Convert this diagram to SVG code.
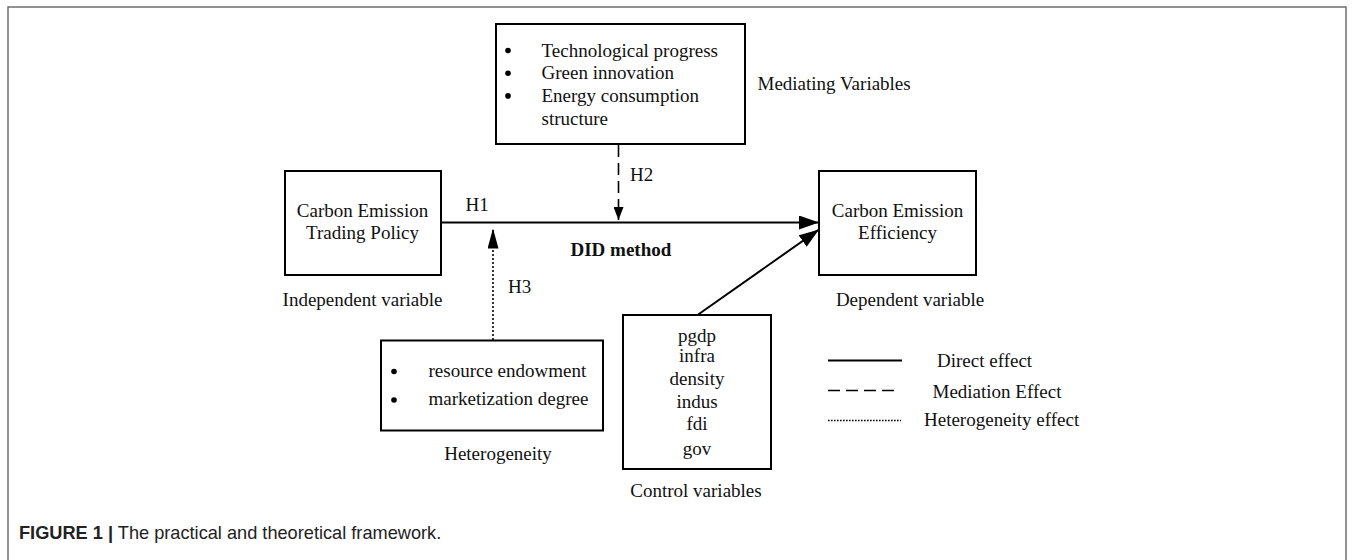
<svg xmlns="http://www.w3.org/2000/svg" width="1354" height="560" viewBox="0 0 1354 560">
  <style>
    .box { fill: #ffffff; stroke: #000000; stroke-width: 2; }
    .t { font-family: "Liberation Serif", "Times New Roman", serif; font-size: 19px; fill: #111111; }
    .mid { text-anchor: middle; }
    .bold { font-weight: bold; }
    .bullet { fill: #000000; }
    .solid { stroke: #000000; stroke-width: 2; fill: none; }
    .dash { stroke: #000000; stroke-width: 1.6; fill: none; stroke-dasharray: 12 6; }
    .dot { stroke: #000000; stroke-width: 1.6; fill: none; stroke-dasharray: 2 2; }
    .cap { font-family: "Liberation Sans", Arial, sans-serif; font-size: 18.2px; fill: #222222; }
  </style>
  <defs>
    <marker id="arrowBig" markerUnits="userSpaceOnUse" markerWidth="20" markerHeight="14" refX="20" refY="7" orient="auto">
      <path d="M0,0 L20,7 L0,14 z" fill="#000000"/>
    </marker>
    <marker id="arrowMid" markerUnits="userSpaceOnUse" markerWidth="20" markerHeight="11" refX="20" refY="5.5" orient="auto">
      <path d="M0,0 L20,5.5 L0,11 z" fill="#000000"/>
    </marker>
    <marker id="arrowSmall" markerUnits="userSpaceOnUse" markerWidth="13" markerHeight="10" refX="13" refY="5" orient="auto">
      <path d="M0,0 L13,5 L0,10 z" fill="#000000"/>
    </marker>
  </defs>

  <rect width="1354" height="560" fill="#ffffff"/>
  <!-- figure frame, open at the bottom -->
  <path d="M8,600 L8,7 L1346,7 L1346,600" fill="none" stroke="#6e6e6e" stroke-width="1.5"/>

  <!-- connectors -->
  <g id="connectors">
    <line class="solid" x1="441" y1="222.5" x2="819" y2="222.5" marker-end="url(#arrowBig)"/>
    <line class="solid" x1="697.5" y1="315" x2="819" y2="229.5" marker-end="url(#arrowBig)"/>
    <line class="dash" x1="618.5" y1="145" x2="618.5" y2="220" marker-end="url(#arrowSmall)"/>
    <line class="dot" x1="493" y1="340" x2="493" y2="228.5" marker-end="url(#arrowMid)"/>
  </g>

  <!-- connector labels -->
  <g id="labels">
    <text class="t" x="465.5" y="211">H1</text>
    <text class="t" x="630" y="180.5">H2</text>
    <text class="t" x="508" y="292.5">H3</text>
    <text class="t bold" x="570.5" y="256">DID method</text>
  </g>

  <g id="mediating">
    <rect class="box" x="496" y="24" width="249" height="120"/>
    <circle class="bullet" cx="508" cy="50.5" r="2.8"/>
    <text class="t" x="541.5" y="56.5">Technological progress</text>
    <circle class="bullet" cx="508" cy="73.2" r="2.8"/>
    <text class="t" x="541.5" y="79.2">Green innovation</text>
    <circle class="bullet" cx="508" cy="95.9" r="2.8"/>
    <text class="t" x="541.5" y="101.9">Energy consumption</text>
    <text class="t" x="541.5" y="124.6">structure</text>
    <text class="t" x="757.5" y="89.5">Mediating Variables</text>
  </g>

  <g id="policy">
    <rect class="box" x="285" y="171" width="156" height="104"/>
    <text class="t mid" x="362.5" y="217.3">Carbon Emission</text>
    <text class="t mid" x="362.5" y="239.3">Trading Policy</text>
    <text class="t mid" x="362.5" y="306">Independent variable</text>
  </g>

  <g id="efficiency">
    <rect class="box" x="819" y="171" width="157" height="104"/>
    <text class="t mid" x="897.5" y="217.3">Carbon Emission</text>
    <text class="t mid" x="897.5" y="239.3">Efficiency</text>
    <text class="t mid" x="910" y="306">Dependent variable</text>
  </g>

  <g id="heterogeneity">
    <rect class="box" x="381" y="340.5" width="222" height="90"/>
    <circle class="bullet" cx="394" cy="371.5" r="2.8"/>
    <text class="t" x="428.5" y="376.7">resource endowment</text>
    <circle class="bullet" cx="394" cy="400" r="2.8"/>
    <text class="t" x="428.5" y="405">marketization degree</text>
    <text class="t mid" x="498" y="460">Heterogeneity</text>
  </g>

  <g id="controls">
    <rect class="box" x="623" y="315" width="148" height="154"/>
    <text class="t mid" x="697" y="341.5">pgdp</text>
    <text class="t mid" x="697" y="362.3">infra</text>
    <text class="t mid" x="697" y="385">density</text>
    <text class="t mid" x="697" y="407.7">indus</text>
    <text class="t mid" x="697" y="430">fdi</text>
    <text class="t mid" x="697" y="455">gov</text>
    <text class="t mid" x="696" y="496.5">Control variables</text>
  </g>

  <g id="legend">
    <line class="solid" x1="828" y1="360.5" x2="902" y2="360.5"/>
    <text class="t" x="937" y="367">Direct effect</text>
    <line class="dash" x1="828" y1="390.5" x2="898" y2="390.5"/>
    <text class="t" x="932.5" y="397.5">Mediation Effect</text>
    <line stroke="#000000" stroke-width="1.4" stroke-dasharray="1.6 1.4" x1="828" y1="420.5" x2="901" y2="420.5"/>
    <text class="t" x="924" y="425.5">Heterogeneity effect</text>
  </g>

  <text class="cap" x="19" y="539"><tspan font-weight="bold">FIGURE 1</tspan> <tspan font-weight="bold">|</tspan> The practical and theoretical framework.</text>
</svg>
